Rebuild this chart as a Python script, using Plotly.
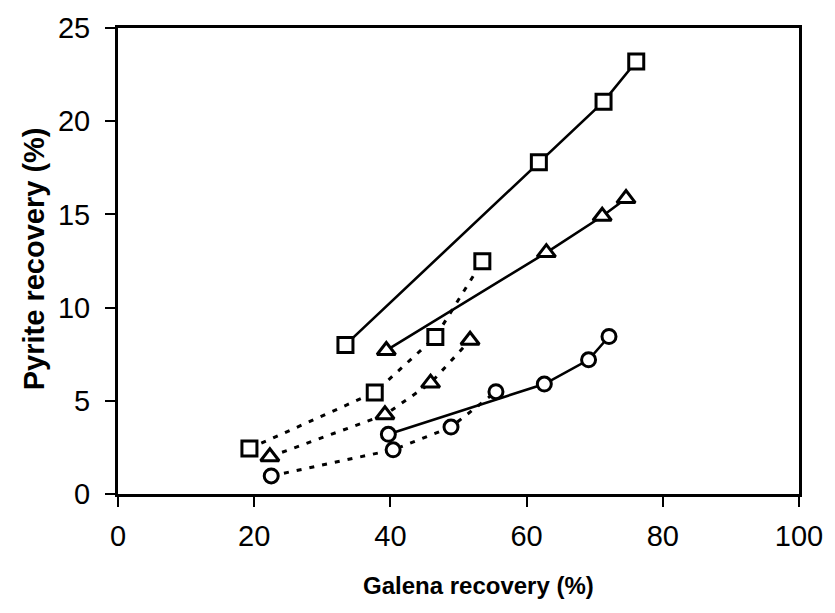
import plotly.graph_objects as go

# Galena vs pyrite recovery, six test series
sq_solid_x = [33.4, 61.8, 71.3, 76.1]
sq_solid_y = [8.0, 17.8, 21.05, 23.2]
sq_dot_x = [19.3, 37.7, 46.6, 53.5]
sq_dot_y = [2.44, 5.45, 8.42, 12.48]

tri_solid_x = [39.4, 62.9, 71.1, 74.6]
tri_solid_y = [7.7, 12.95, 14.9, 15.85]
tri_dot_x = [22.3, 39.2, 45.9, 51.7]
tri_dot_y = [2.0, 4.25, 5.95, 8.25]

cir_solid_x = [39.7, 62.6, 69.1, 72.1]
cir_solid_y = [3.2, 5.9, 7.2, 8.45]
cir_dot_x = [22.5, 40.4, 48.9, 55.5]
cir_dot_y = [0.97, 2.37, 3.59, 5.49]

x_ticks = [0, 20, 40, 60, 80, 100]
y_ticks = [0, 5, 10, 15, 20, 25]

DOT = "5px,8px"

series = [
    (sq_dot_x, sq_dot_y, "square", DOT, 15),
    (tri_dot_x, tri_dot_y, "triangle-up", DOT, 16),
    (cir_dot_x, cir_dot_y, "circle", DOT, 14),
    (sq_solid_x, sq_solid_y, "square", "solid", 15),
    (tri_solid_x, tri_solid_y, "triangle-up", "solid", 16),
    (cir_solid_x, cir_solid_y, "circle", "solid", 14),
]

fig = go.Figure()
for xs, ys, sym, dash, size in series:
    fig.add_trace(go.Scatter(
        x=xs, y=ys, mode="lines",
        line=dict(color="black", width=3 if dash != "solid" else 2.6, dash=dash),
        showlegend=False, hoverinfo="skip",
    ))
for xs, ys, sym, dash, size in series:
    # hollow markers with a white face so the connecting lines stop at the outline
    fig.add_trace(go.Scatter(
        x=xs, y=ys, mode="markers",
        marker=dict(symbol=sym, size=size, color="white",
                    line=dict(color="black", width=3)),
        showlegend=False,
    ))

font_family = "Liberation Sans, Arial, Helvetica, sans-serif"
tick_font = dict(family=font_family, size=29, color="black")

fig.update_xaxes(
    range=[0, 100], tickvals=x_ticks, ticks="outside", ticklen=10, tickwidth=2,
    tickcolor="black", showline=True, linecolor="black", linewidth=3, mirror=True,
    showgrid=False, zeroline=False, tickfont=tick_font, ticklabelstandoff=4,
)
fig.update_yaxes(
    range=[0, 25], tickvals=y_ticks, ticks="outside", ticklen=10, tickwidth=2,
    tickcolor="black", showline=True, linecolor="black", linewidth=3, mirror=True,
    showgrid=False, zeroline=False, tickfont=tick_font, ticklabelstandoff=9,
)

# axis titles, placed as paper-anchored text
fig.add_annotation(
    text="<b>Galena recovery (%)</b>", xref="paper", yref="paper",
    x=0.529, y=-0.197, xanchor="center", yanchor="middle", showarrow=False,
    font=dict(family=font_family, size=24, color="black"),
)
fig.add_annotation(
    text="<b>Pyrite recovery (%)</b>", xref="paper", yref="paper", textangle=-90,
    x=-0.124, y=0.505, xanchor="center", yanchor="middle", showarrow=False,
    font=dict(family=font_family, size=29, color="black"),
)

fig.update_layout(
    width=835, height=613,
    margin=dict(l=118, r=28, t=20, b=119),
    paper_bgcolor="white", plot_bgcolor="white",
)
fig.write_html("out.html")
